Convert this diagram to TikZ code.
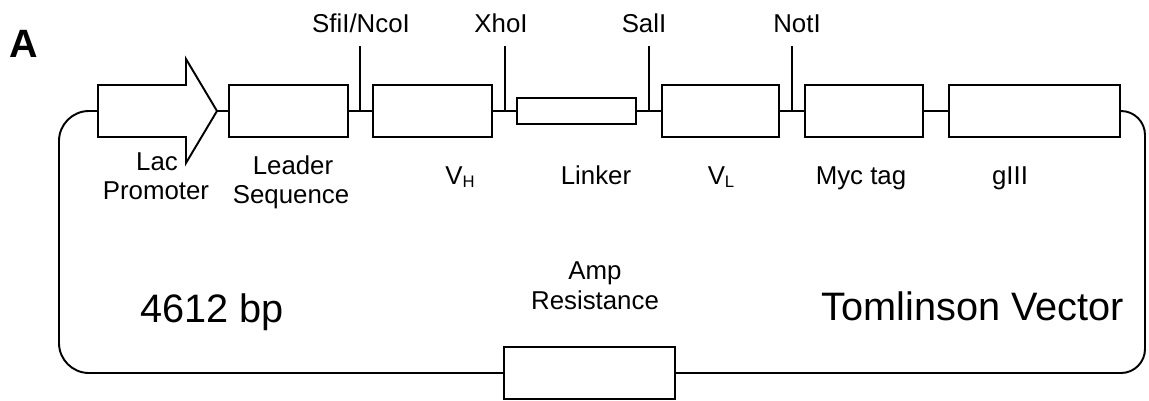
\documentclass[tikz,border=0pt]{standalone}
\usepackage{fontspec}
\setmainfont{Liberation Sans}
\newcommand{\pxu}{0.02cm}
\newcommand{\vsub}[1]{\raisebox{-1.8pt}{\fontsize{9.5}{11}\selectfont #1}}
\begin{document}
\begin{tikzpicture}[x=0.02cm,y=-0.02cm,line width=1.1pt,
  blk/.style={draw,rectangle,inner sep=0pt,minimum width=#1*\pxu,minimum height=52*\pxu},
  lbl/.style={font=\fontsize{14.7}{17}\selectfont,anchor=base,inner sep=0pt},
  big/.style={font=\fontsize{22.6}{27}\selectfont,anchor=base,inner sep=0pt}]
\useasboundingbox (0,0) rectangle (1149,400);
% promoter arrow
\draw (98,85) -- (186,85) -- (186,59) -- (217,111) -- (186,163) -- (186,137) -- (98,137) -- cycle;
\coordinate (promtip) at (217,111);
\coordinate (promback) at (98,111);
% boxes
\node[blk=119] (leader) at (288.5,111) {};
\node[blk=119] (vh) at (432.5,111) {};
\node[blk=119,minimum height=26*\pxu] (linker) at (576.5,111) {};
\node[blk=117] (vl) at (720.5,111) {};
\node[blk=118] (myc) at (864,111) {};
\node[blk=171] (g3) at (1034.5,111) {};
\node[blk=171] (amp) at (589.5,373) {};
% connectors
\draw (promtip) -- (leader.west);
\draw (leader.east) -- (vh.west);
\draw (vh.east) -- (linker.west);
\draw (linker.east) -- (vl.west);
\draw (vl.east) -- (myc.west);
\draw (myc.east) -- (g3.west);
% restriction sites
\coordinate (sfi) at (360,111); \coordinate (sfitop) at (360,46);
\coordinate (xho) at (505,111); \coordinate (xhotop) at (505,46);
\coordinate (sal) at (649,111); \coordinate (saltop) at (649,46);
\coordinate (nti) at (792,111); \coordinate (ntitop) at (792,46);
\draw (sfi) -- (sfitop);
\draw (xho) -- (xhotop);
\draw (sal) -- (saltop);
\draw (nti) -- (ntitop);
\node[lbl] (sfilbl) at (361,32) {SfiI/NcoI};
\node[lbl] (xholbl) at (501,32) {XhoI};
\node[lbl] (sallbl) at (644,32) {SalI};
\node[lbl] (ntilbl) at (797,32) {NotI};
% loop
\coordinate (c1) at (59,111);
\coordinate (c2) at (59,373);
\coordinate (c3) at (1145,373);
\coordinate (c4) at (1145,111);
\draw[rounded corners=30*\pxu] (promback) -- (c1) -- (c2) -- (amp.west);
\draw[rounded corners=24*\pxu] (amp.east) -- (c3) -- (c4) -- (g3.east);
% labels
\node[lbl] (lac1) at (157,170) {Lac};
\node[lbl] (lac2) at (156,199) {Promoter};
\node[lbl] (lead1) at (293,174) {Leader};
\node[lbl] (lead2) at (291,203) {Sequence};
\node[lbl] (vhlbl) at (460,184) {V\vsub{H}};
\node[lbl] (linklbl) at (596,184) {Linker};
\node[lbl] (vllbl) at (721,184) {V\vsub{L}};
\node[lbl] (myclbl) at (861,184) {Myc tag};
\node[lbl] (g3lbl) at (1010,184) {gIII};
\node[lbl] (amp1) at (595,279) {Amp};
\node[lbl] (amp2) at (595,309) {Resistance};
\node[big] (bp) at (212,322) {4612 bp};
\node[big] (tom) at (973,320) {Tomlinson Vector};
\node[font=\bfseries\fontsize{22.5}{27}\selectfont,anchor=base west,inner sep=0pt] (lblA) at (9,57) {A};
\end{tikzpicture}
\end{document}
